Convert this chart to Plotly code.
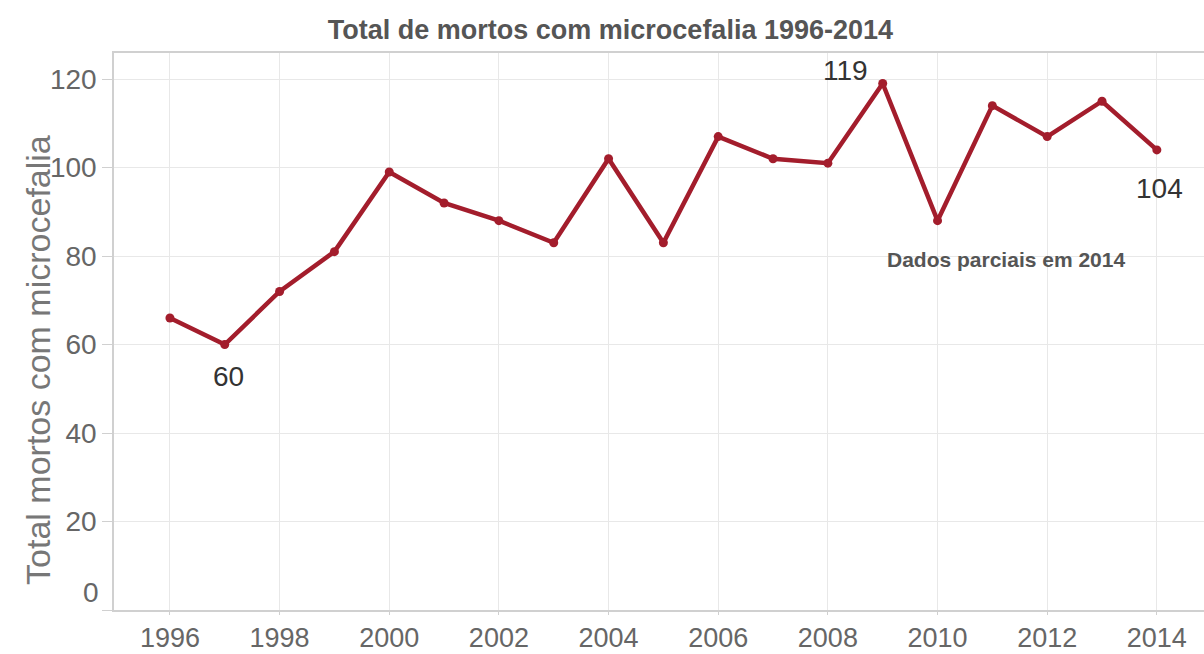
import plotly.graph_objects as go

years = list(range(1996, 2015))
deaths = [66, 60, 72, 81, 99, 92, 88, 83, 102, 83, 107, 102, 101, 119, 88, 114, 107, 115, 104]
y_ticks = [0, 20, 40, 60, 80, 100, 120]
y_ticktext = ["", "20", "40", "60", "80", "100", "120"]

RED = "#a31d2c"
FONT = "Liberation Sans, Arial, sans-serif"

fig = go.Figure()
fig.add_trace(go.Scatter(
    x=years, y=deaths, mode="lines+markers",
    line=dict(color=RED, width=4.5),
    marker=dict(color=RED, size=9),
    hoverinfo="x+y", showlegend=False,
))

# labels on specific points
fig.add_annotation(x=1997, y=60, text="60", showarrow=False, yshift=-32, xshift=4,
                   font=dict(size=28, color="#333333", family=FONT))
fig.add_annotation(x=2009, y=119, text="119", showarrow=False, yshift=13, xshift=-37,
                   font=dict(size=28, color="#333333", family=FONT))
fig.add_annotation(x=2014, y=104, text="104", showarrow=False, yshift=-39, xshift=3,
                   font=dict(size=28, color="#333333", family=FONT))
fig.add_annotation(x=2011.25, y=79.2, text="<b>Dados parciais em 2014</b>", showarrow=False,
                   font=dict(size=21, color="#555555", family=FONT))
# zero label (clamped inside the pane)
fig.add_annotation(x=0, xref="paper", y=0, yref="y", text="0", showarrow=False,
                   xanchor="right", xshift=-13, yshift=18,
                   font=dict(size=28, color="#666666", family=FONT))
# y axis title
fig.add_annotation(x=-0.0697, xref="paper", y=0.449, yref="paper",
                   xanchor="center", yanchor="middle",
                   text="Total mortos com microcefalia", textangle=-90, showarrow=False,
                   font=dict(size=34, color="#777777", family=FONT))

fig.update_layout(
    width=1204, height=654,
    margin=dict(l=114, r=0, t=53, b=44),
    paper_bgcolor="white", plot_bgcolor="white",
    title=dict(text="<b>Total de mortos com microcefalia 1996-2014</b>",
               x=0.507, xref="container", xanchor="center",
               y=0.955, yref="container", yanchor="middle",
               font=dict(size=27, color="#555555", family=FONT)),
    font=dict(family=FONT),
)
fig.update_xaxes(
    range=[1994.98, 2014.86], tick0=1996, dtick=2,
    showgrid=True, gridcolor="#e8e8e8", gridwidth=1,
    showline=True, linecolor="#d0d0d0", linewidth=1.5, mirror=True,
    ticks="outside", ticklen=3, tickcolor="#d0d0d0",
    tickfont=dict(size=27, color="#666666", family=FONT),
    zeroline=False, automargin=False,
)
fig.update_yaxes(
    range=[0, 125.9], tickvals=y_ticks, ticktext=y_ticktext,
    showgrid=True, gridcolor="#e8e8e8", gridwidth=1,
    showline=True, linecolor="#d0d0d0", linewidth=1.5,
    ticks="outside", ticklen=10, tickcolor="#d0d0d0",
    tickfont=dict(size=28, color="#666666", family=FONT),
    zeroline=False, automargin=False,
)

fig.write_html("out.html", config={"displayModeBar": False},
               post_script="document.body.style.margin='0';document.body.style.overflow='hidden';")
